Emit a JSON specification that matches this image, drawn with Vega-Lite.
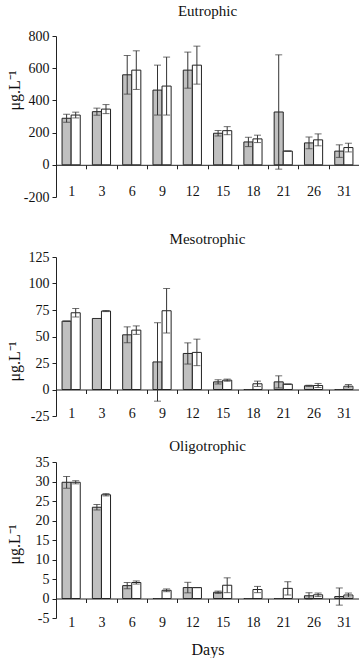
{
  "$schema": "https://vega.github.io/schema/vega-lite/v6.json",
  "background": "white",
  "padding": {"left": 5, "top": 4, "right": 0, "bottom": 0},
  "config": {
    "font": "Liberation Serif",
    "view": {"stroke": null},
    "axis": {
      "labelFont": "Liberation Serif",
      "labelFontSize": 14,
      "labelColor": "#111",
      "labelOverlap": false,
      "titleFont": "Liberation Serif",
      "titleFontSize": 16,
      "titleFontWeight": "normal",
      "titleColor": "#111",
      "domainColor": "#222",
      "tickColor": "#222",
      "tickSize": 4,
      "grid": false
    },
    "axisY": {"labelOverlap": false},
    "title": {"font": "Liberation Serif", "fontSize": 15, "fontWeight": "normal", "color": "#111"}
  },
  "datasets": {
    "trophic": [
      {"panel": "Eutrophic", "day": 1, "series": "T1", "mean": 289, "lo": 264, "hi": 314},
      {"panel": "Eutrophic", "day": 1, "series": "T2", "mean": 309, "lo": 291, "hi": 327},
      {"panel": "Eutrophic", "day": 3, "series": "T1", "mean": 330, "lo": 308, "hi": 352},
      {"panel": "Eutrophic", "day": 3, "series": "T2", "mean": 346, "lo": 318, "hi": 374},
      {"panel": "Eutrophic", "day": 6, "series": "T1", "mean": 559, "lo": 439, "hi": 679},
      {"panel": "Eutrophic", "day": 6, "series": "T2", "mean": 588, "lo": 468, "hi": 708},
      {"panel": "Eutrophic", "day": 9, "series": "T1", "mean": 464, "lo": 309, "hi": 619},
      {"panel": "Eutrophic", "day": 9, "series": "T2", "mean": 489, "lo": 309, "hi": 669},
      {"panel": "Eutrophic", "day": 12, "series": "T1", "mean": 588, "lo": 476, "hi": 700},
      {"panel": "Eutrophic", "day": 12, "series": "T2", "mean": 619, "lo": 501, "hi": 737},
      {"panel": "Eutrophic", "day": 15, "series": "T1", "mean": 196, "lo": 179, "hi": 213},
      {"panel": "Eutrophic", "day": 15, "series": "T2", "mean": 212, "lo": 187, "hi": 237},
      {"panel": "Eutrophic", "day": 18, "series": "T1", "mean": 142, "lo": 113, "hi": 171},
      {"panel": "Eutrophic", "day": 18, "series": "T2", "mean": 161, "lo": 138, "hi": 184},
      {"panel": "Eutrophic", "day": 21, "series": "T1", "mean": 328, "lo": -27, "hi": 683},
      {"panel": "Eutrophic", "day": 21, "series": "T2", "mean": 85, "lo": 85, "hi": 85},
      {"panel": "Eutrophic", "day": 26, "series": "T1", "mean": 136, "lo": 100, "hi": 172},
      {"panel": "Eutrophic", "day": 26, "series": "T2", "mean": 155, "lo": 118, "hi": 192},
      {"panel": "Eutrophic", "day": 31, "series": "T1", "mean": 85, "lo": 46, "hi": 124},
      {"panel": "Eutrophic", "day": 31, "series": "T2", "mean": 107, "lo": 80, "hi": 134},

      {"panel": "Mesotrophic", "day": 1, "series": "T1", "mean": 64.5, "lo": 64.5, "hi": 64.5},
      {"panel": "Mesotrophic", "day": 1, "series": "T2", "mean": 72.4, "lo": 68.4, "hi": 76.4},
      {"panel": "Mesotrophic", "day": 3, "series": "T1", "mean": 67, "lo": 67, "hi": 67},
      {"panel": "Mesotrophic", "day": 3, "series": "T2", "mean": 74, "lo": 73.5, "hi": 74.5},
      {"panel": "Mesotrophic", "day": 6, "series": "T1", "mean": 51.6, "lo": 44.1, "hi": 59.1},
      {"panel": "Mesotrophic", "day": 6, "series": "T2", "mean": 56, "lo": 52, "hi": 60},
      {"panel": "Mesotrophic", "day": 9, "series": "T1", "mean": 26, "lo": -11, "hi": 63},
      {"panel": "Mesotrophic", "day": 9, "series": "T2", "mean": 74.3, "lo": 53.3, "hi": 95.3},
      {"panel": "Mesotrophic", "day": 12, "series": "T1", "mean": 34, "lo": 24, "hi": 44},
      {"panel": "Mesotrophic", "day": 12, "series": "T2", "mean": 35, "lo": 22.5, "hi": 47.5},
      {"panel": "Mesotrophic", "day": 15, "series": "T1", "mean": 7.2, "lo": 5.2, "hi": 9.2},
      {"panel": "Mesotrophic", "day": 15, "series": "T2", "mean": 8.8, "lo": 7.8, "hi": 9.8},
      {"panel": "Mesotrophic", "day": 18, "series": "T1", "mean": 0, "lo": 0, "hi": 0},
      {"panel": "Mesotrophic", "day": 18, "series": "T2", "mean": 5.4, "lo": 2.9, "hi": 7.9},
      {"panel": "Mesotrophic", "day": 21, "series": "T1", "mean": 7.2, "lo": 1.5, "hi": 12.9},
      {"panel": "Mesotrophic", "day": 21, "series": "T2", "mean": 5, "lo": 5, "hi": 5},
      {"panel": "Mesotrophic", "day": 26, "series": "T1", "mean": 3.5, "lo": 3, "hi": 4},
      {"panel": "Mesotrophic", "day": 26, "series": "T2", "mean": 3.8, "lo": 1.9, "hi": 5.7},
      {"panel": "Mesotrophic", "day": 31, "series": "T1", "mean": 0, "lo": 0, "hi": 0},
      {"panel": "Mesotrophic", "day": 31, "series": "T2", "mean": 3.1, "lo": 1.5, "hi": 4.7},

      {"panel": "Oligotrophic", "day": 1, "series": "T1", "mean": 29.8, "lo": 28.3, "hi": 31.3},
      {"panel": "Oligotrophic", "day": 1, "series": "T2", "mean": 29.8, "lo": 29.4, "hi": 30.2},
      {"panel": "Oligotrophic", "day": 3, "series": "T1", "mean": 23.4, "lo": 22.7, "hi": 24.1},
      {"panel": "Oligotrophic", "day": 3, "series": "T2", "mean": 26.6, "lo": 26.3, "hi": 26.9},
      {"panel": "Oligotrophic", "day": 6, "series": "T1", "mean": 3.3, "lo": 2.5, "hi": 4.1},
      {"panel": "Oligotrophic", "day": 6, "series": "T2", "mean": 4.1, "lo": 3.7, "hi": 4.5},
      {"panel": "Oligotrophic", "day": 9, "series": "T1", "mean": 0, "lo": 0, "hi": 0},
      {"panel": "Oligotrophic", "day": 9, "series": "T2", "mean": 2.1, "lo": 1.75, "hi": 2.45},
      {"panel": "Oligotrophic", "day": 12, "series": "T1", "mean": 2.8, "lo": 1.45, "hi": 4.15},
      {"panel": "Oligotrophic", "day": 12, "series": "T2", "mean": 2.8, "lo": 2.8, "hi": 2.8},
      {"panel": "Oligotrophic", "day": 15, "series": "T1", "mean": 1.6, "lo": 1.3, "hi": 1.9},
      {"panel": "Oligotrophic", "day": 15, "series": "T2", "mean": 3.4, "lo": 1.5, "hi": 5.3},
      {"panel": "Oligotrophic", "day": 18, "series": "T1", "mean": 0, "lo": 0, "hi": 0},
      {"panel": "Oligotrophic", "day": 18, "series": "T2", "mean": 2.3, "lo": 1.5, "hi": 3.1},
      {"panel": "Oligotrophic", "day": 21, "series": "T1", "mean": 0, "lo": 0, "hi": 0},
      {"panel": "Oligotrophic", "day": 21, "series": "T2", "mean": 2.6, "lo": 0.9, "hi": 4.3},
      {"panel": "Oligotrophic", "day": 26, "series": "T1", "mean": 0.7, "lo": -0.1, "hi": 1.5},
      {"panel": "Oligotrophic", "day": 26, "series": "T2", "mean": 0.95, "lo": 0.5, "hi": 1.4},
      {"panel": "Oligotrophic", "day": 31, "series": "T1", "mean": 0.5, "lo": -1.7, "hi": 2.7},
      {"panel": "Oligotrophic", "day": 31, "series": "T2", "mean": 0.9, "lo": 0.4, "hi": 1.4}
    ]
  },
  "bounds": "flush",
  "spacing": 60,
  "vconcat": [
    {
      "title": {"text": "Eutrophic", "offset": 10},
      "width": 303,
      "height": 161,
      "data": {"name": "trophic"},
      "transform": [{"filter": "datum.panel === 'Eutrophic'"}],
      "encoding": {
        "x": {"field": "day", "type": "ordinal", "sort": [1, 3, 6, 9, 12, 15, 18, 21, 26, 31],
              "scale": {"paddingInner": 0, "paddingOuter": 0},
              "axis": {"title": null, "labelAngle": 0, "offset": -32.2, "tickBand": "extent", "labelPadding": 16}},
        "xOffset": {"field": "series", "type": "nominal", "scale": {"paddingInner": 0, "paddingOuter": 0.667}}
      },
      "layer": [
        {
          "mark": {"type": "bar", "stroke": "#222", "strokeWidth": 1},
          "encoding": {
            "y": {"field": "mean", "type": "quantitative", "scale": {"domain": [-200, 800], "nice": false},
                  "axis": {"values": [-200, 0, 200, 400, 600, 800], "labelOverlap": false, "labelExpr": "'' + datum.value", "title": "μg.L⁻¹", "titleX": -42, "titleY": 54, "titleBaseline": "middle", "labelPadding": 3}},
            "fill": {"field": "series", "type": "nominal", "scale": {"domain": ["T1", "T2"], "range": ["#c0c0c0", "#ffffff"]}, "legend": null}
          }
        },
        {"mark": {"type": "rule", "color": "#333", "strokeWidth": 1}, "encoding": {"y": {"field": "lo", "type": "quantitative", "axis": {"values": [-200, 0, 200, 400, 600, 800], "labelOverlap": false, "labelExpr": "'' + datum.value", "title": "μg.L⁻¹", "titleX": -42, "titleY": 54, "titleBaseline": "middle", "labelPadding": 3}}, "y2": {"field": "hi"}}},
        {"mark": {"type": "tick", "color": "#333", "thickness": 1, "size": 7, "orient": "horizontal"}, "encoding": {"y": {"field": "hi", "type": "quantitative", "axis": {"values": [-200, 0, 200, 400, 600, 800], "labelOverlap": false, "labelExpr": "'' + datum.value", "title": "μg.L⁻¹", "titleX": -42, "titleY": 54, "titleBaseline": "middle", "labelPadding": 3}}}},
        {"mark": {"type": "tick", "color": "#333", "thickness": 1, "size": 7, "orient": "horizontal"}, "encoding": {"y": {"field": "lo", "type": "quantitative", "axis": {"values": [-200, 0, 200, 400, 600, 800], "labelOverlap": false, "labelExpr": "'' + datum.value", "title": "μg.L⁻¹", "titleX": -42, "titleY": 54, "titleBaseline": "middle", "labelPadding": 3}}}}
      ]
    },
    {
      "bounds": "flush",
      "spacing": 46,
      "vconcat": [
        {
          "title": {"text": "Mesotrophic", "offset": 3},
          "width": 303,
          "height": 159,
          "data": {"name": "trophic"},
          "transform": [{"filter": "datum.panel === 'Mesotrophic'"}],
          "encoding": {
            "x": {"field": "day", "type": "ordinal", "sort": [1, 3, 6, 9, 12, 15, 18, 21, 26, 31],
                  "scale": {"paddingInner": 0, "paddingOuter": 0},
                  "axis": {"title": null, "labelAngle": 0, "offset": -26.5, "tickBand": "extent", "labelPadding": 13}},
            "xOffset": {"field": "series", "type": "nominal", "scale": {"paddingInner": 0, "paddingOuter": 0.667}}
          },
          "layer": [
            {
              "mark": {"type": "bar", "stroke": "#222", "strokeWidth": 1},
              "encoding": {
                "y": {"field": "mean", "type": "quantitative", "scale": {"domain": [-25, 125], "nice": false},
                      "axis": {"values": [-25, 0, 25, 50, 75, 100, 125], "labelOverlap": false, "labelExpr": "'' + datum.value", "title": "μg.L⁻¹", "titleX": -42, "titleY": 104, "titleBaseline": "middle", "labelPadding": 3}},
                "fill": {"field": "series", "type": "nominal", "scale": {"domain": ["T1", "T2"], "range": ["#c0c0c0", "#ffffff"]}, "legend": null}
              }
            },
            {"mark": {"type": "rule", "color": "#333", "strokeWidth": 1}, "encoding": {"y": {"field": "lo", "type": "quantitative", "axis": {"values": [-25, 0, 25, 50, 75, 100, 125], "labelOverlap": false, "labelExpr": "'' + datum.value", "title": "μg.L⁻¹", "titleX": -42, "titleY": 104, "titleBaseline": "middle", "labelPadding": 3}}, "y2": {"field": "hi"}}},
            {"mark": {"type": "tick", "color": "#333", "thickness": 1, "size": 7, "orient": "horizontal"}, "encoding": {"y": {"field": "hi", "type": "quantitative", "axis": {"values": [-25, 0, 25, 50, 75, 100, 125], "labelOverlap": false, "labelExpr": "'' + datum.value", "title": "μg.L⁻¹", "titleX": -42, "titleY": 104, "titleBaseline": "middle", "labelPadding": 3}}}},
            {"mark": {"type": "tick", "color": "#333", "thickness": 1, "size": 7, "orient": "horizontal"}, "encoding": {"y": {"field": "lo", "type": "quantitative", "axis": {"values": [-25, 0, 25, 50, 75, 100, 125], "labelOverlap": false, "labelExpr": "'' + datum.value", "title": "μg.L⁻¹", "titleX": -42, "titleY": 104, "titleBaseline": "middle", "labelPadding": 3}}}}
          ]
        },
        {
          "title": {"text": "Oligotrophic", "offset": 1},
          "width": 303,
          "height": 156,
          "data": {"name": "trophic"},
          "transform": [{"filter": "datum.panel === 'Oligotrophic'"}],
          "encoding": {
            "x": {"field": "day", "type": "ordinal", "sort": [1, 3, 6, 9, 12, 15, 18, 21, 26, 31],
                  "scale": {"paddingInner": 0, "paddingOuter": 0},
                  "axis": {"title": "Days", "titleFontSize": 16, "titlePadding": 12, "labelAngle": 0, "offset": -19.5, "tickBand": "extent", "labelPadding": 13}},
            "xOffset": {"field": "series", "type": "nominal", "scale": {"paddingInner": 0, "paddingOuter": 0.667}}
          },
          "layer": [
            {
              "mark": {"type": "bar", "stroke": "#222", "strokeWidth": 1},
              "encoding": {
                "y": {"field": "mean", "type": "quantitative", "scale": {"domain": [-5, 35], "nice": false},
                      "axis": {"values": [-5, 0, 5, 10, 15, 20, 25, 30, 35], "labelOverlap": false, "labelExpr": "'' + datum.value", "title": "μg.L⁻¹", "titleX": -42, "titleY": 82, "titleBaseline": "middle", "labelPadding": 3}},
                "fill": {"field": "series", "type": "nominal", "scale": {"domain": ["T1", "T2"], "range": ["#c0c0c0", "#ffffff"]}, "legend": null}
              }
            },
            {"mark": {"type": "rule", "color": "#333", "strokeWidth": 1}, "encoding": {"y": {"field": "lo", "type": "quantitative", "axis": {"values": [-5, 0, 5, 10, 15, 20, 25, 30, 35], "labelOverlap": false, "labelExpr": "'' + datum.value", "title": "μg.L⁻¹", "titleX": -42, "titleY": 82, "titleBaseline": "middle", "labelPadding": 3}}, "y2": {"field": "hi"}}},
            {"mark": {"type": "tick", "color": "#333", "thickness": 1, "size": 7, "orient": "horizontal"}, "encoding": {"y": {"field": "hi", "type": "quantitative", "axis": {"values": [-5, 0, 5, 10, 15, 20, 25, 30, 35], "labelOverlap": false, "labelExpr": "'' + datum.value", "title": "μg.L⁻¹", "titleX": -42, "titleY": 82, "titleBaseline": "middle", "labelPadding": 3}}}},
            {"mark": {"type": "tick", "color": "#333", "thickness": 1, "size": 7, "orient": "horizontal"}, "encoding": {"y": {"field": "lo", "type": "quantitative", "axis": {"values": [-5, 0, 5, 10, 15, 20, 25, 30, 35], "labelOverlap": false, "labelExpr": "'' + datum.value", "title": "μg.L⁻¹", "titleX": -42, "titleY": 82, "titleBaseline": "middle", "labelPadding": 3}}}}
          ]
        }
      ]
    }
  ]
}
